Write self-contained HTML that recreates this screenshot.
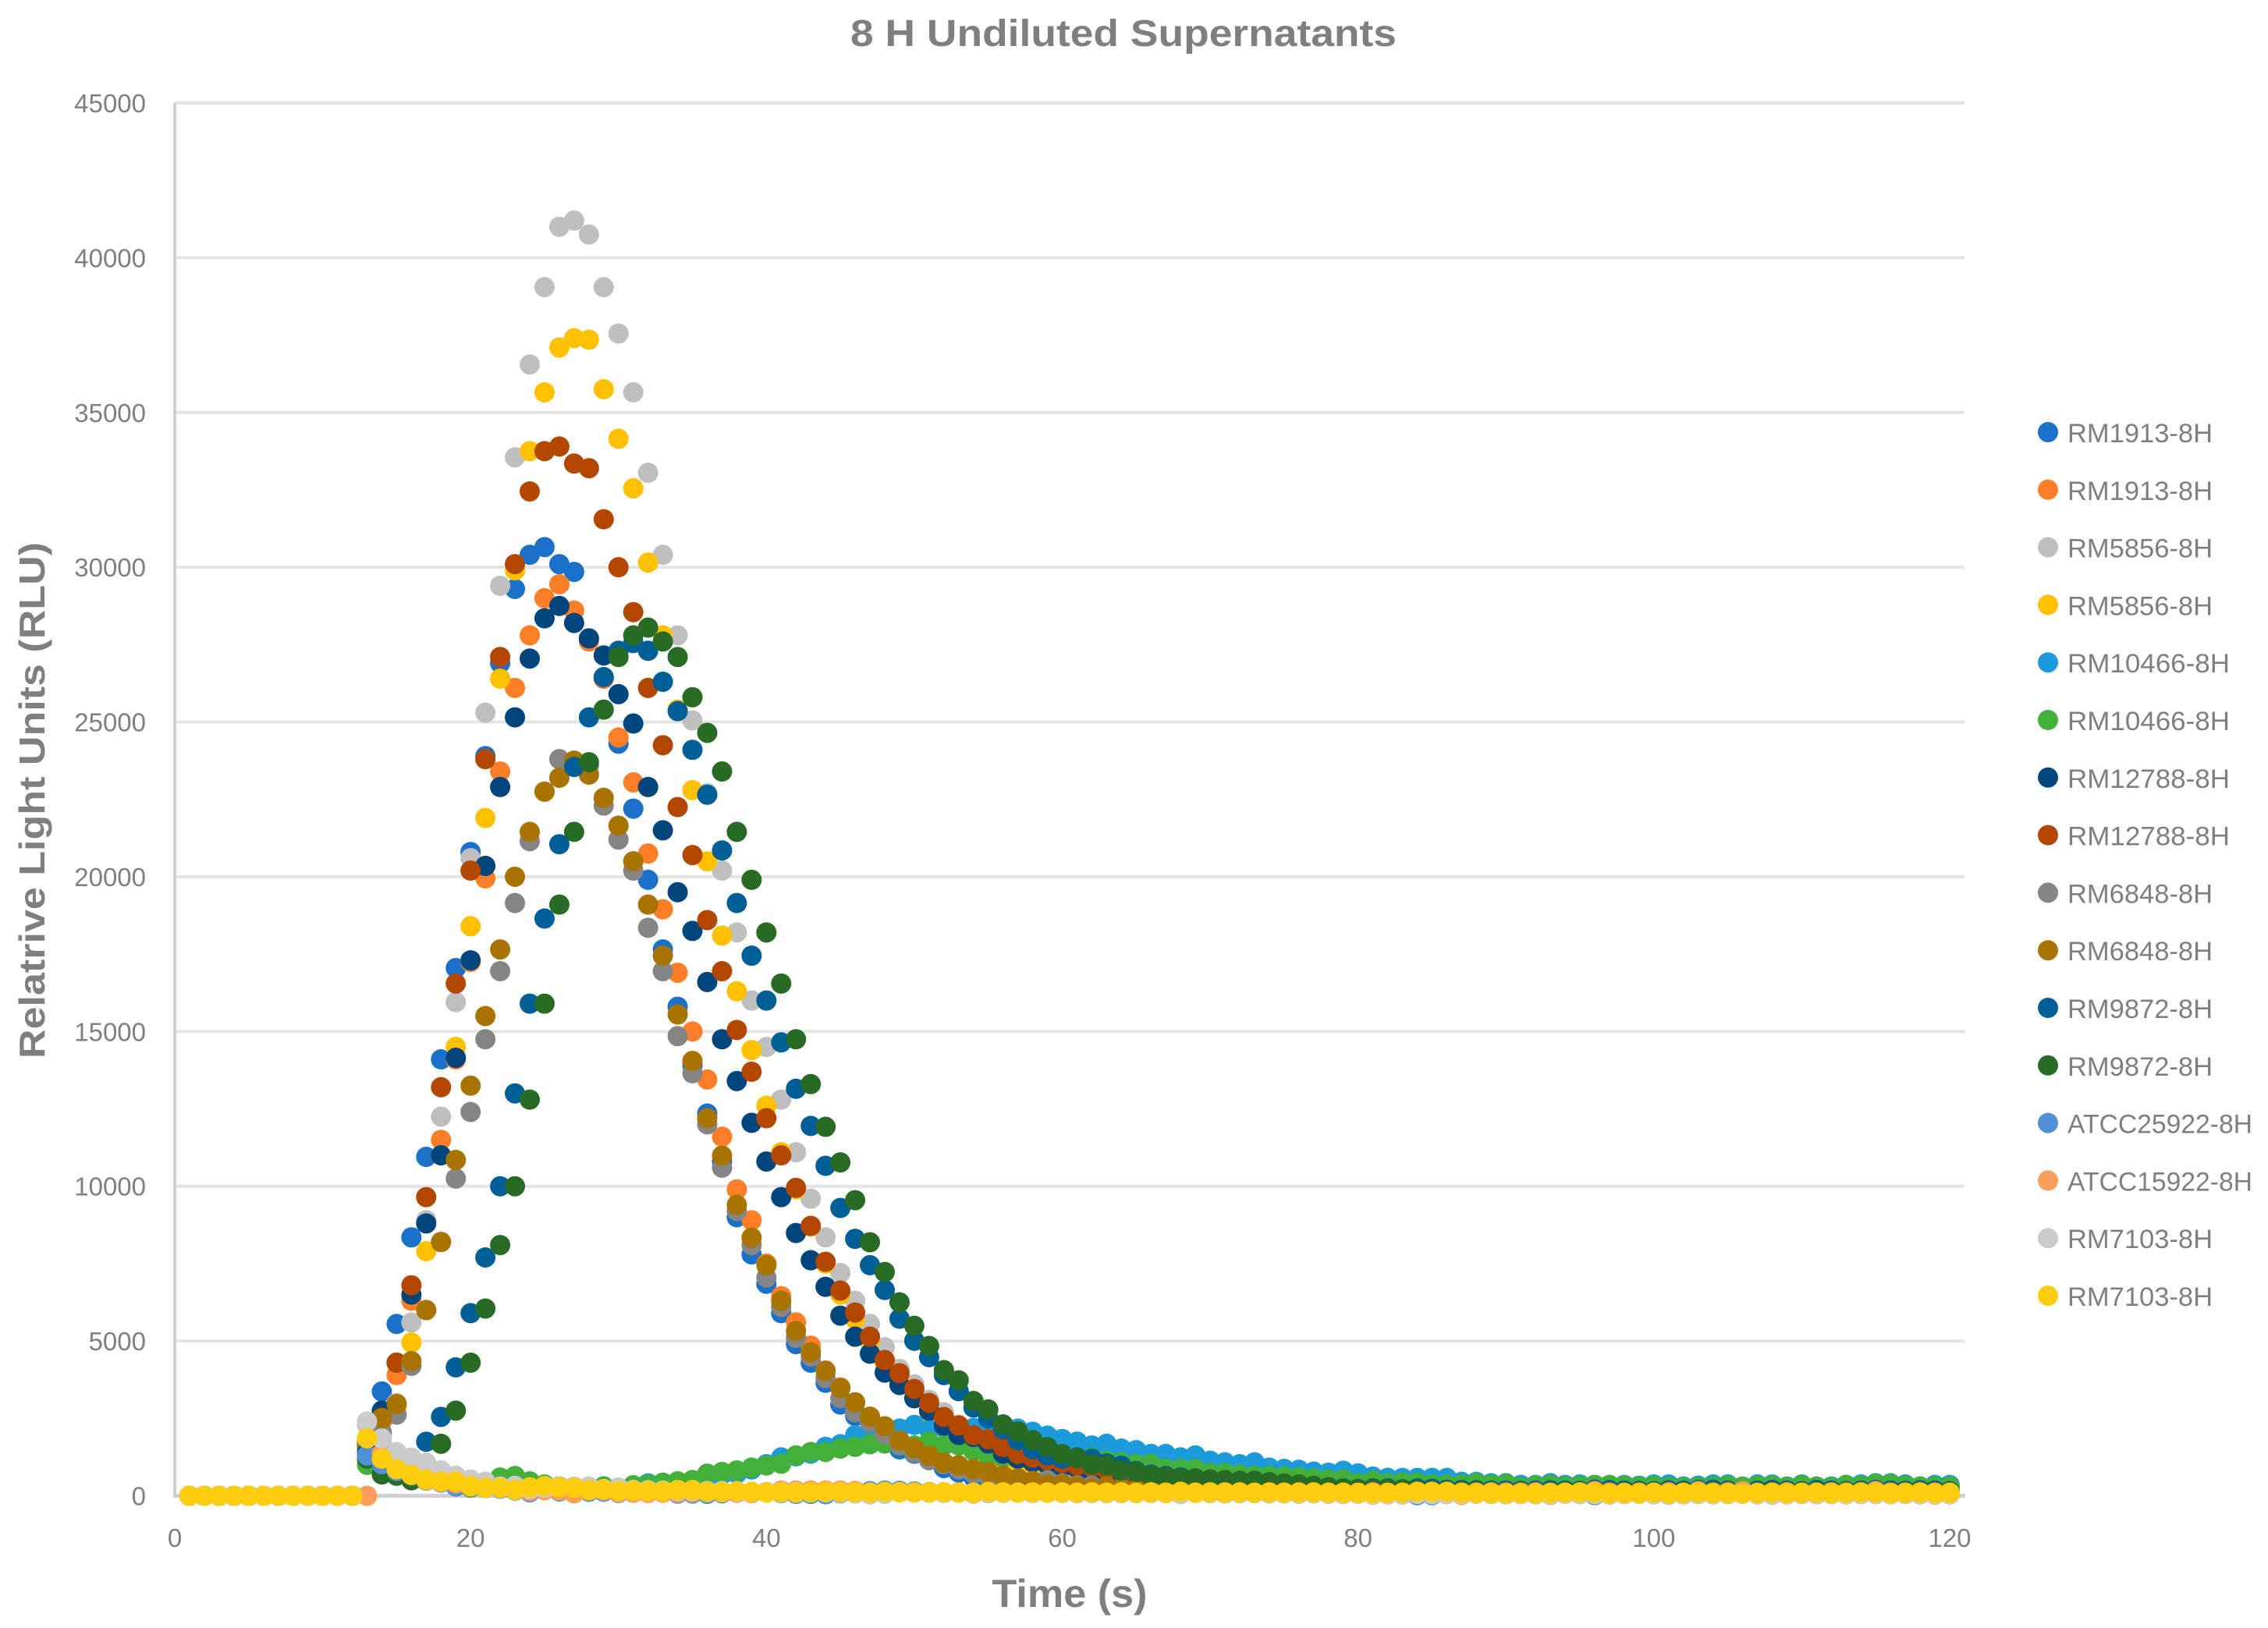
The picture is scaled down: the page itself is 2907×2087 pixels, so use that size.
<!DOCTYPE html>
<html lang="en">
<head>
<meta charset="utf-8">
<title>8 H Undiluted Supernatants</title>
<style>
html,body{margin:0;padding:0;background:#fff;}
svg{display:block;font-family:"Liberation Sans",sans-serif;}
</style>
</head>
<body>
<svg id="chart" xmlns="http://www.w3.org/2000/svg" width="2907" height="2087" viewBox="0 0 2907 2087">
  <rect x="0" y="0" width="2907" height="2087" fill="#ffffff"/>
  <text x="1440" y="59" text-anchor="middle" font-size="48" font-weight="700" fill="#7f7f7f" textLength="700" lengthAdjust="spacingAndGlyphs">8 H Undiluted Supernatants</text>
  <text transform="translate(57,1026) rotate(-90)" text-anchor="middle" font-size="46" font-weight="700" fill="#7f7f7f" textLength="662" lengthAdjust="spacingAndGlyphs">Relatrive Light Units (RLU)</text>
  <text x="1371" y="2060" text-anchor="middle" font-size="50" font-weight="700" fill="#7f7f7f" textLength="199" lengthAdjust="spacingAndGlyphs">Time (s)</text>
  <g id="grid"></g>
  <g id="axes"></g>
  <g id="marks"></g>
  <g id="legend"></g>
</svg>
<script>
const yTicks = [0,5000,10000,15000,20000,25000,30000,35000,40000,45000];
const xTicks = [0,20,40,60,80,100,120];
const seriesNames = ["RM1913-8H","RM1913-8H","RM5856-8H","RM5856-8H","RM10466-8H","RM10466-8H","RM12788-8H","RM12788-8H","RM6848-8H","RM6848-8H","RM9872-8H","RM9872-8H","ATCC25922-8H","ATCC15922-8H","RM7103-8H","RM7103-8H"];
const seriesColors = ["#1b71c9","#ff7e27","#bfbfbf","#ffc000","#1b9bd9","#43b03a","#00457c","#b34700","#858585","#a87400","#005f96","#276b25","#5290d6","#ff9d5c","#cbcbcb","#ffcd0d"];
const times = [
1,2,3,4,5,6,7,8,9,10,
11,12,13,14,15,16,17,18,19,20,
21,22,23,24,25,26,27,28,29,30,
31,32,33,34,35,36,37,38,39,40,
41,42,43,44,45,46,47,48,49,50,
51,52,53,54,55,56,57,58,59,60,
61,62,63,64,65,66,67,68,69,70,
71,72,73,74,75,76,77,78,79,80,
81,82,83,84,85,86,87,88,89,90,
91,92,93,94,95,96,97,98,99,100,
101,102,103,104,105,106,107,108,109,110,
111,112,113,114,115,116,117,118,119,120];
const rm1913a = [
0,0,0,0,0,0,0,0,0,0,
0,0,1800,3370,5550,8350,10950,14100,17050,20800,
23900,26900,29300,30400,30650,30100,29850,27700,26400,24300,
22200,19900,17650,15800,13900,12350,10800,9000,7800,6850,
5900,4900,4300,3650,2950,2580,2000,1700,1500,1360,
1205,895,750,600,480,400,340,290,250,220,
200,180,170,150,140,130,120,110,100,100,
100,90,100,80,110,90,100,80,90,100,
70,80,60,40,30,80,90,100,110,100,
100,90,100,110,90,100,40,90,100,110,
100,90,100,110,100,90,100,110,100,90,
100,110,100,90,100,110,100,90,100,100];
const rm1913b = [
0,0,0,0,0,0,0,0,0,0,
0,0,1500,2400,3900,6300,8900,11500,14100,17250,
19950,23400,26100,27800,29000,29450,28600,27600,26400,24500,
23050,20750,18950,16900,15000,13450,11600,9900,8900,7500,
6450,5600,4850,4050,3500,3000,2550,2220,1700,1400,
1200,1050,980,870,760,1050,950,700,450,300,
260,230,200,170,150,140,130,120,110,100,
100,90,100,90,100,110,90,100,90,100,
90,100,90,100,110,90,100,100,60,100,
100,90,110,100,90,180,100,90,110,100,
100,110,170,90,180,100,90,110,100,100,
110,100,90,100,170,100,90,110,100,100];
const rm5856a = [
0,0,0,0,0,0,0,0,0,0,
0,0,2300,2000,3000,5600,8900,12250,15950,20600,
25300,29400,33550,36550,39050,41000,41200,40750,39050,37550,
35650,33050,30400,27800,25050,22700,20200,18200,16000,14500,
12800,11100,9600,8350,7200,6300,5550,4800,4100,3600,
3100,2700,2300,2000,1750,1500,1300,1100,950,800,
680,580,480,400,350,300,260,230,200,180,
160,150,140,130,120,110,110,100,100,100,
100,100,90,90,100,100,90,90,100,100,
90,100,100,90,100,100,90,100,100,90,
100,100,90,100,100,90,100,100,90,100,
100,90,100,100,90,100,100,90,100,100];
const rm5856b = [
0,0,0,0,0,0,0,0,0,0,
0,0,1800,1700,2900,4950,7900,11000,14500,18400,
21900,26400,29900,33750,35650,37100,37400,37350,35750,34150,
32550,30150,27800,25400,22800,20500,18100,16300,14400,12600,
11100,9900,8700,7500,6500,5700,5000,4300,3700,3200,
2700,2300,1900,1500,1300,1150,1030,900,780,660,
560,460,380,320,280,240,200,180,160,150,
140,130,120,110,110,100,100,100,100,100,
100,90,90,100,100,90,100,100,90,100,
100,90,100,100,90,100,100,90,100,100,
90,100,100,90,100,100,90,100,100,90,
100,100,90,100,100,90,100,100,90,100];
const rm10466a = [
0,0,0,0,0,0,0,0,0,0,
0,0,1200,800,700,600,500,450,350,280,
400,520,580,440,350,300,280,250,250,250,
330,400,420,450,500,600,680,720,850,1020,
1240,1275,1360,1580,1665,1960,2020,2100,2170,2290,
2140,2200,2200,2190,2087,2120,2170,2070,1945,1835,
1750,1625,1680,1525,1475,1350,1350,1240,1305,1135,
1080,1020,1080,910,870,840,780,745,810,725,
620,580,575,575,575,575,450,450,405,405,
350,350,405,350,365,350,325,350,325,365,
365,300,325,365,365,280,365,365,300,365,
300,300,350,365,405,405,365,300,350,350];
const rm10466b = [
0,0,0,0,0,0,0,0,0,0,
0,0,1000,750,650,660,490,430,350,260,
400,590,640,465,365,305,290,280,305,260,
340,365,424,465,510,715,770,820,910,980,
1035,1305,1415,1415,1525,1580,1665,1690,1625,1625,
1750,1625,1625,1450,1300,1250,1200,1150,1100,1060,
1100,1240,1135,1080,1020,1035,870,870,870,735,
735,685,640,640,620,600,560,530,530,405,
490,405,430,430,365,365,365,405,365,380,
280,325,350,300,325,350,350,325,300,325,
280,265,280,300,325,300,325,325,280,350,
300,265,350,325,390,390,325,300,300,300];
const rm12788a = [
0,0,0,0,0,0,0,0,0,0,
0,0,1700,2750,4300,6500,8800,11000,14150,17300,
20350,22900,25150,27050,28350,28750,28200,27700,27150,25900,
24950,22900,21500,19500,18250,16600,14750,13400,12050,10800,
9650,8490,7610,6750,5820,5140,4590,3980,3580,3150,
2750,2270,1965,1900,1690,1360,1200,1090,1000,930,
890,700,560,480,400,340,290,250,220,200,
180,160,150,140,130,120,120,110,110,100,
100,100,110,100,100,130,110,100,100,110,
100,110,120,100,100,110,110,100,100,110,
120,100,130,110,100,100,110,120,100,100,
110,100,120,110,100,100,110,100,100,110];
const rm12788b = [
0,0,0,0,0,0,0,0,0,0,
0,0,1600,2520,4300,6800,9650,13200,16550,20200,
23800,27100,30100,32450,33750,33900,33350,33200,31550,30000,
28550,26100,24250,22250,20700,18600,16950,15050,13700,12200,
11000,9950,8720,7560,6630,5920,5140,4385,3960,3450,
3000,2545,2270,1953,1825,1575,1350,1230,1150,1060,
980,935,850,800,600,400,300,260,220,190,
170,150,130,120,110,110,100,100,100,100,
100,100,100,100,100,100,100,100,100,100,
100,100,100,100,100,100,100,100,100,100,
100,100,100,100,100,100,100,100,100,100,
100,100,100,100,100,100,100,100,100,100];
const rm6848a = [
0,0,0,0,0,0,0,0,0,0,
0,0,1700,2040,2620,4200,6000,8200,10250,12400,
14750,16950,19150,21150,22750,23800,23700,23600,22300,21200,
20200,18350,16950,14850,13650,12000,10600,9200,8100,7050,
6100,5100,4500,3800,3150,2700,2370,2000,1650,1400,
1150,1020,850,720,620,560,510,480,505,400,
340,320,270,230,190,170,150,130,120,110,
110,100,100,100,100,100,100,100,100,100,
100,100,100,100,100,100,100,100,100,100,
100,100,100,100,100,100,100,100,100,100,
100,100,100,100,100,100,100,100,100,100,
100,100,100,100,100,100,100,100,100,100];
const rm6848b = [
0,0,0,0,0,0,0,0,0,0,
0,0,1700,2500,2960,4350,6000,8200,10850,13250,
15500,17650,20000,21450,22750,23200,23750,23300,22550,21650,
20500,19100,17450,15550,14050,12200,10990,9400,8340,7450,
6300,5320,4640,4030,3480,3020,2555,2245,1785,1530,
1295,1070,985,860,775,650,565,465,365,365,
305,240,305,200,190,170,160,150,130,120,
110,100,100,100,100,100,100,100,100,100,
100,100,100,100,100,100,100,100,100,100,
100,100,100,100,100,100,100,100,100,100,
100,100,100,100,100,100,100,100,100,100,
100,100,100,100,100,100,100,100,100,100];
const rm9872a = [
0,0,0,0,0,0,0,0,0,0,
0,0,1390,1100,900,1000,1745,2550,4150,5900,
7700,10000,13000,15900,18650,21050,23550,25150,26450,27300,
27550,27300,26300,25350,24100,22650,20850,19150,17450,16000,
14650,13150,11950,10660,9300,8300,7450,6650,5720,5010,
4480,3900,3380,2850,2500,2150,1800,1500,1300,1200,
1240,1200,1050,970,800,685,640,595,520,490,
465,405,360,330,320,300,280,260,240,220,
240,240,210,240,230,200,190,180,170,170,
160,170,180,170,160,200,190,170,160,150,
180,170,190,200,170,150,170,190,170,150,
190,170,150,170,190,170,160,180,170,150];
const rm9872b = [
0,0,0,0,0,0,0,0,0,0,
0,0,1200,690,650,500,1000,1680,2750,4300,
6050,8100,10000,12800,15900,19100,21450,23700,25400,27100,
27800,28050,27600,27100,25800,24650,23400,21450,19900,18200,
16550,14750,13300,11920,10770,9550,8190,7230,6250,5490,
4840,4060,3730,3062,2790,2305,2080,1800,1575,1350,
1215,1015,980,820,775,650,610,565,565,525,
510,485,485,440,400,370,320,280,240,220,
230,210,210,190,170,160,150,140,140,130,
130,130,130,130,130,130,130,130,130,130,
130,130,130,130,130,130,130,130,130,130,
130,130,130,130,130,130,130,130,130,130];
const atcc25922 = [
0,0,0,0,0,0,0,0,0,0,
0,0,1300,1020,800,660,500,430,300,300,
250,230,170,110,190,140,200,130,130,90,
100,110,110,70,70,60,80,100,90,110,
90,60,60,50,80,90,150,170,160,140,
120,100,110,100,90,100,110,90,100,100,
90,100,100,90,100,110,90,100,100,90,
100,100,90,100,100,90,100,100,90,100,
70,60,40,20,20,60,80,100,90,100,
90,100,100,80,90,20,90,100,100,90,
100,90,100,100,90,100,100,90,100,100,
90,100,100,90,100,100,90,100,100,90];
const atcc15922 = [
0,0,0,0,0,0,0,0,0,0,
0,0,0,1360,900,700,500,450,400,300,
260,250,190,150,180,170,80,170,170,110,
100,90,100,100,110,130,110,100,90,120,
170,170,170,170,170,160,100,110,120,110,
100,110,100,70,100,110,100,100,110,100,
100,110,100,90,100,110,100,90,100,100,
110,100,90,100,100,110,100,90,100,100,
110,100,90,100,100,60,30,100,110,100,
100,110,30,100,100,150,100,90,100,100,
110,100,150,100,110,150,90,100,110,100,
100,110,100,100,150,100,100,110,100,100];
const rm7103a = [
0,0,0,0,0,0,0,0,0,0,
0,0,2400,1850,1410,1235,1070,820,650,525,
458,300,320,220,250,300,300,300,220,260,
190,180,170,160,160,150,150,140,130,130,
120,120,110,110,100,70,40,60,110,100,
100,90,100,90,100,90,100,90,100,90,
80,90,80,90,80,90,80,50,90,80,
70,80,90,80,70,60,70,60,50,60,
30,40,40,60,50,50,60,60,50,40,
50,40,50,60,50,50,40,50,60,40,
30,40,50,40,50,60,40,30,40,50,
40,50,40,50,50,40,50,40,30,40];
const rm7103b = [
0,0,0,0,0,0,0,0,0,0,
0,0,1860,1197,857,675,525,458,458,315,
257,257,190,273,315,270,257,190,205,145,
160,145,140,190,190,120,120,150,120,100,
110,100,110,130,120,110,100,130,110,100,
110,115,100,100,125,110,100,110,100,110,
100,110,100,110,100,110,100,130,100,110,
100,110,100,110,100,100,110,100,100,90,
80,90,100,130,130,130,100,90,80,70,
80,70,90,100,110,100,70,90,80,100,
70,90,100,90,80,70,90,100,80,90,
100,80,90,110,100,80,90,100,80,90];
const seriesValues = [rm1913a,rm1913b,rm5856a,rm5856b,rm10466a,rm10466b,rm12788a,rm12788b,rm6848a,rm6848b,rm9872a,rm9872b,atcc25922,atcc15922,rm7103a,rm7103b];

const NS = "http://www.w3.org/2000/svg";
const xScale = function (t) { return 224 + t * (2275 / 120); };
const yScale = function (v) { return 1917.5 - v * (1785.5 / 45000); };
const legendTextWidth = function (name) {
  if (name.length === 12) { return 237; }
  if (name.length === 10) { return 208; }
  return 186;
};

const gridGroup = document.getElementById("grid");
const axesGroup = document.getElementById("axes");
const marksGroup = document.getElementById("marks");
const legendGroup = document.getElementById("legend");

yTicks.forEach(function (v) {
  if (v > 0) {
    const line = document.createElementNS(NS, "line");
    
    
    line.setAttribute("x1", 224);
    line.setAttribute("x2", 2518);
    line.setAttribute("y1", yScale(v));
    line.setAttribute("y2", yScale(v));
    line.setAttribute("stroke", "#e4e4e4");
    line.setAttribute("stroke-width", 4);
    gridGroup.appendChild(line);
  }
  const label = document.createElementNS(NS, "text");
  
  
  label.setAttribute("x", 187);
  label.setAttribute("y", yScale(v) + 12);
  label.setAttribute("text-anchor", "end");
  label.setAttribute("font-size", 33);
  label.setAttribute("fill", "#7f7f7f");
  label.textContent = String(v);
  axesGroup.appendChild(label);
});

const yAxisLine = document.createElementNS(NS, "line");


yAxisLine.setAttribute("x1", 224);
yAxisLine.setAttribute("x2", 224);
yAxisLine.setAttribute("y1", yScale(45000));
yAxisLine.setAttribute("y2", yScale(0) + 2);
yAxisLine.setAttribute("stroke", "#d0d0d0");
yAxisLine.setAttribute("stroke-width", 4);
axesGroup.appendChild(yAxisLine);

const xAxisLine = document.createElementNS(NS, "line");


xAxisLine.setAttribute("x1", 222);
xAxisLine.setAttribute("x2", 2519);
xAxisLine.setAttribute("y1", yScale(0));
xAxisLine.setAttribute("y2", yScale(0));
xAxisLine.setAttribute("stroke", "#d0d0d0");
xAxisLine.setAttribute("stroke-width", 5);
axesGroup.appendChild(xAxisLine);

xTicks.forEach(function (t) {
  const label = document.createElementNS(NS, "text");
  
  
  label.setAttribute("x", xScale(t));
  label.setAttribute("y", 1983);
  label.setAttribute("text-anchor", "middle");
  label.setAttribute("font-size", 33);
  label.setAttribute("fill", "#7f7f7f");
  label.textContent = String(t);
  axesGroup.appendChild(label);
});

seriesValues.forEach(function (values, s) {
  const group = document.createElementNS(NS, "g");
  
  
  group.setAttribute("fill", seriesColors[s]);
  values.forEach(function (v, i) {
    const dot = document.createElementNS(NS, "circle");
    
    
    dot.setAttribute("cx", xScale(times[i]));
    dot.setAttribute("cy", yScale(v));
    dot.setAttribute("r", 13);
    group.appendChild(dot);
  });
  marksGroup.appendChild(group);
});

seriesNames.forEach(function (name, s) {
  const cy = 554 + s * 73.8;
  const dot = document.createElementNS(NS, "circle");
  
  
  dot.setAttribute("cx", 2625);
  dot.setAttribute("cy", cy);
  dot.setAttribute("r", 13);
  dot.setAttribute("fill", seriesColors[s]);
  legendGroup.appendChild(dot);
  const label = document.createElementNS(NS, "text");
  
  
  label.setAttribute("x", 2650);
  label.setAttribute("y", cy + 13);
  label.setAttribute("font-size", 34);
  label.setAttribute("fill", "#7f7f7f");
  label.setAttribute("textLength", legendTextWidth(name));
  label.setAttribute("lengthAdjust", "spacingAndGlyphs");
  label.textContent = name;
  legendGroup.appendChild(label);
});
</script>
</body>
</html>
